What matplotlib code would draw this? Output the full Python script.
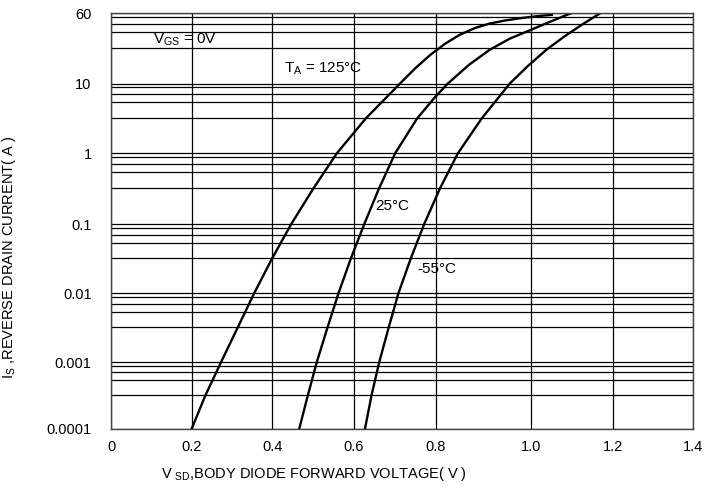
import numpy as np
import matplotlib
matplotlib.use("Agg")
import matplotlib.pyplot as plt

plt.rcParams['font.family'] = ['Liberation Sans', 'DejaVu Sans']
plt.rcParams['mathtext.fontset'] = 'custom'
plt.rcParams['mathtext.rm'] = 'Liberation Sans'
plt.rcParams['mathtext.it'] = 'Liberation Sans'

# ---- data ----
x_ticks = [0.0, 0.2, 0.4, 0.6, 0.8, 1.0, 1.2, 1.4]
x_tick_labels = ['0', '0.2', '0.4', '0.6', '0.8', '1.0', '1.2', '1.4']
y_ticks = [1e-4, 1e-3, 1e-2, 1e-1, 1, 10, 100]
y_tick_labels = ['0.0001', '0.001', '0.01', '0.1', '1', '10', '60']
grid_multipliers = [0.88, 0.71, 0.54, 0.32]

v_125 = [0.200, 0.234, 0.273, 0.314, 0.355, 0.399, 0.446, 0.500, 0.558, 0.629,
         0.713, 0.750, 0.787, 0.820, 0.851, 0.883, 0.914, 0.946, 0.977, 1.010, 1.051]
i_125 = [1e-4, 3.16e-4, 1e-3, 3.16e-3, 1e-2, 3.16e-2, 0.1, 0.316, 1.0, 3.16,
         10, 16.4, 25.5, 36.8, 49.5, 61.7, 71.6, 78.9, 85.0, 90.2, 95.2]

v_25 = [0.466, 0.487, 0.509, 0.535, 0.562, 0.592, 0.625, 0.661, 0.701, 0.755,
        0.799, 0.826, 0.870, 0.913, 0.956, 1.000, 1.048, 1.097]
i_25 = [1e-4, 3.16e-4, 1e-3, 3.16e-3, 1e-2, 3.16e-2, 0.1, 0.316, 1.0, 3.16,
        6.4, 10, 18.4, 30, 43.6, 58, 76.4, 100]

v_m55 = [0.627, 0.643, 0.662, 0.685, 0.709, 0.739, 0.772, 0.809, 0.847, 0.897,
         0.956, 0.994, 1.0385, 1.083, 1.1265, 1.168]
i_m55 = [1e-4, 3.16e-4, 1e-3, 3.16e-3, 1e-2, 3.16e-2, 0.1, 0.316, 1.0, 3.16,
         10, 17.8, 30.5, 47.5, 70.4, 100]

# ---- scales (non-uniform grid of the original sheet) ----
x_frac = (np.array([111, 191.7, 272.3, 354, 435.5, 530.8, 613.3, 693]) - 111) / (693 - 111)
y_dec = np.log10(y_ticks)
y_frac = (428.7 - np.array([428.7, 362, 293.3, 224.3, 153.3, 83.5, 13.3])) / (428.7 - 13.3)

def xf(v):
    return np.interp(v, x_ticks, x_frac)

def xi(f):
    return np.interp(f, x_frac, x_ticks)

def yf(v):
    v = np.clip(np.asarray(v, dtype=float), 1e-12, None)
    return np.interp(np.log10(v), y_dec, y_frac)

def yi(f):
    return 10 ** np.interp(f, y_frac, y_dec)

fig = plt.figure(figsize=(7.15, 4.87), dpi=100)
ax = fig.add_axes([111 / 715, 1 - 428.7 / 487, (693 - 111) / 715, (428.7 - 13.3) / 487])
ax.set_xscale('function', functions=(xf, xi))
ax.set_yscale('function', functions=(yf, yi))
ax.set_xlim(0, 1.4)
ax.set_ylim(1e-4, 100)

ax.set_xticks(x_ticks)
ax.set_xticklabels(x_tick_labels)
ax.set_yticks(y_ticks)
ax.set_yticklabels(y_tick_labels)
minor = [m * t for t in y_ticks[1:] for m in grid_multipliers]
ax.set_yticks(minor, minor=True)
ax.set_xticks([], minor=True)

ax.grid(True, which='major', color='black', linewidth=0.9)
ax.grid(True, which='minor', axis='y', color='black', linewidth=0.9)
ax.tick_params(which='both', length=0)
ax.tick_params(axis='y', pad=14, labelsize=10.5)
ax.tick_params(axis='x', pad=8, labelsize=10.5)
for s in ax.spines.values():
    s.set_linewidth(1.0)
    s.set_color('#444444')

for v, i in [(v_125, i_125), (v_25, i_25), (v_m55, i_m55)]:
    ax.plot(v, i, color='black', linewidth=1.7, solid_joinstyle='round')

tk = dict(transform=ax.transAxes, fontsize=11, va='center', ha='left')
ax.text(0.072, 0.936, r'V$\mathregular{_{GS}}$ = 0V', **tk)
ax.text(0.298, 0.866, r'T$\mathregular{_{A}}$ = 125°C', **tk)
ax.text(0.4536, 0.536, '25°C', **tk)
ax.text(0.526, 0.3845, '-55°C', **tk)

ax.set_ylabel(r'I$\mathregular{_{S}}$ ,REVERSE DRAIN CURRENT( A )', fontsize=10.5)
ax.yaxis.set_label_coords(-0.16, 0.413)
ax.set_xlabel(r'V $\mathregular{_{SD}}$,BODY DIODE FORWARD VOLTAGE( V )', fontsize=10.5)
ax.xaxis.set_label_coords(0.349, -0.088)

fig.savefig('out.png', dpi=100)
